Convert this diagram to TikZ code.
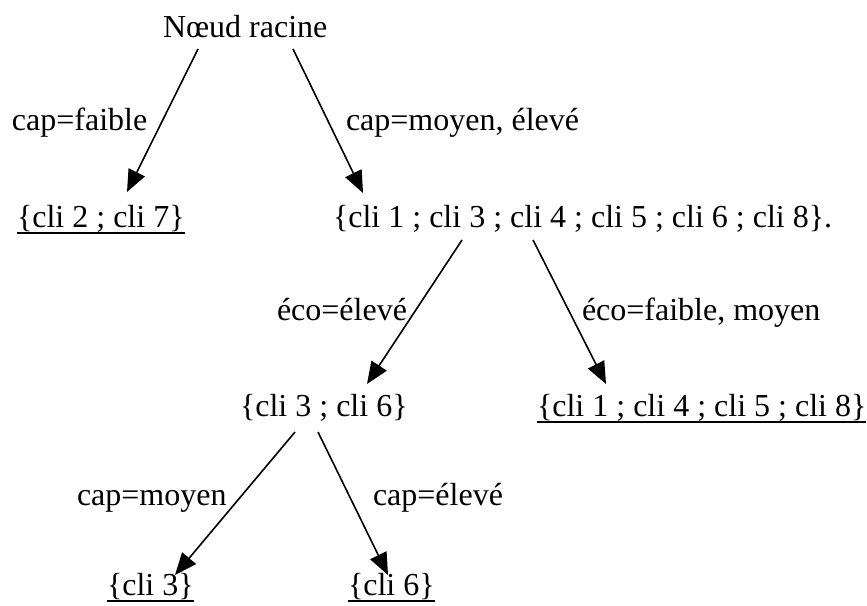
\documentclass[tikz,border=0pt]{standalone}
\usepackage{fontspec}
\setmainfont{Liberation Serif}
\usetikzlibrary{arrows.meta}
\newsavebox{\myulbox}
\newcommand{\myul}[1]{\sbox{\myulbox}{#1}\rlap{\raisebox{-6.5pt}{\rule{\wd\myulbox}{1.8pt}}}\usebox{\myulbox}}
\begin{document}
\begin{tikzpicture}[x=1pt,y=-1pt,
  txt/.style={anchor=base west,inner sep=0pt,outer sep=0pt,font=\fontsize{32}{38}\selectfont},
  arr/.style={line width=1.6pt,-{Triangle[length=22pt,width=18pt]}}]
\useasboundingbox (0,0) rectangle (867,605);
\node[txt] (root) at (163,37) {Nœud racine};
\node[txt] (lcapa) at (12,130) {cap=faible};
\node[txt] (lcapb) at (346,130) {cap=moyen, élevé};
\node[txt] (c27) at (17,227) {\myul{\{cli 2 ; cli 7\}}};
\node[txt] (cbig) at (333,227) {\{cli 1 ; cli 3 ; cli 4 ; cli 5 ; cli 6 ; cli 8\}.};
\node[txt] (lecoa) at (277,320) {éco=élevé};
\node[txt] (lecob) at (582,320) {éco=faible, moyen};
\node[txt] (c36) at (240,416) {\{cli 3 ; cli 6\}};
\node[txt] (c1458) at (537,416) {\myul{\{cli 1 ; cli 4 ; cli 5 ; cli 8\}}};
\node[txt] (lcapc) at (77,505) {cap=moyen};
\node[txt] (lcapd) at (373,505) {cap=élevé};
\node[txt] (c3) at (107,595) {\myul{\{cli 3\}}};
\node[txt] (c6) at (348,595) {\myul{\{cli 6\}}};
\draw[arr] ([shift={(35,12)}]root.base west) -- ([shift={(110,-35)}]c27.base west);
\draw[arr] ([shift={(130,12)}]root.base west) -- ([shift={(30,-34)}]cbig.base west);
\draw[arr] ([shift={(129,13)}]cbig.base west) -- ([shift={(127,-32)}]c36.base west);
\draw[arr] ([shift={(200,13)}]cbig.base west) -- ([shift={(69,-32)}]c1458.base west);
\draw[arr] ([shift={(55,16)}]c36.base west) -- ([shift={(68,-20)}]c3.base west);
\draw[arr] ([shift={(78,16)}]c36.base west) -- ([shift={(40,-20)}]c6.base west);
\end{tikzpicture}
\end{document}
